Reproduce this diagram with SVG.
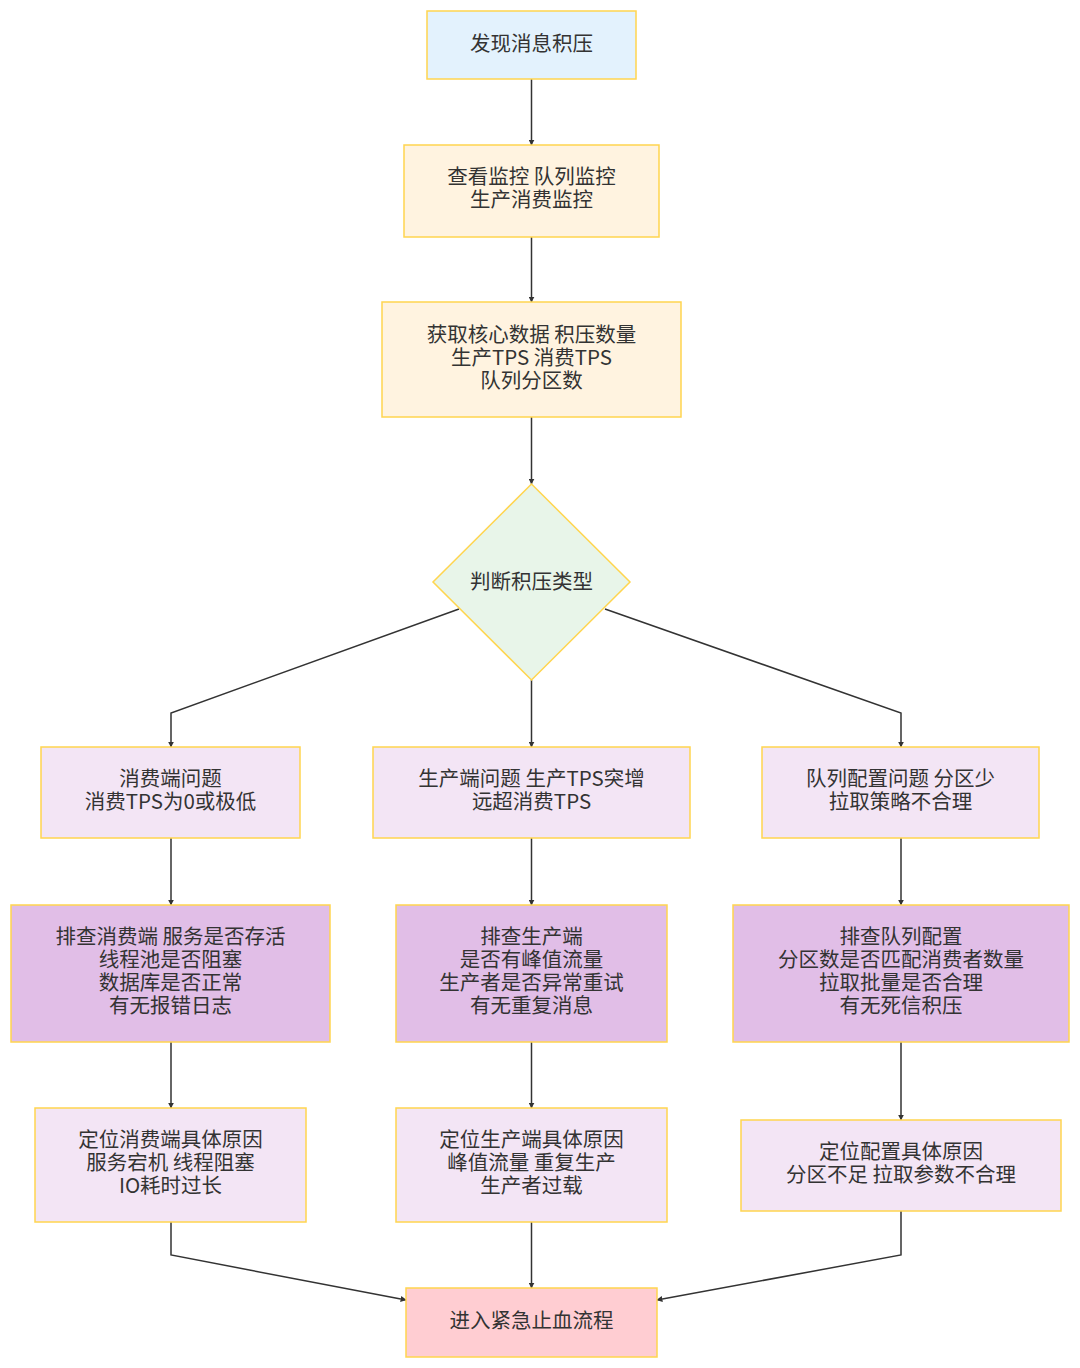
<svg xmlns="http://www.w3.org/2000/svg" width="1080" height="1368" viewBox="0 0 1080 1368">
<defs>
<marker id="arr" viewBox="0 0 10 10" refX="9" refY="5" markerWidth="6" markerHeight="6" orient="auto-start-reverse" markerUnits="userSpaceOnUse">
<path d="M0,0 L10,5 L0,10 z" fill="#333"/>
</marker>
<style>
.n{stroke:#ffd54f;stroke-width:1.5}
.t{font-family:"Noto Sans CJK SC","Noto Sans",sans-serif;font-size:20.5px;fill:#333;text-anchor:middle}
.e{fill:none;stroke:#333;stroke-width:1.5;marker-end:url(#arr)}
</style>
</defs>
<rect width="1080" height="1368" fill="#fff"/>
<g id="edges">
<path class="e" d="M531.5,79 V145"/>
<path class="e" d="M531.5,237 V302"/>
<path class="e" d="M531.5,417 V484"/>
<path class="e" d="M459,609 L171,713 V747"/>
<path class="e" d="M531.5,680 V747"/>
<path class="e" d="M605,609 L901,713 V747"/>
<path class="e" d="M171,838 V905"/>
<path class="e" d="M531.5,838 V905"/>
<path class="e" d="M901,838 V905"/>
<path class="e" d="M171,1042 V1108"/>
<path class="e" d="M531.5,1042 V1108"/>
<path class="e" d="M901,1042 V1120"/>
<path class="e" d="M171,1222 V1255 L406,1300"/>
<path class="e" d="M531.5,1222 V1288"/>
<path class="e" d="M901,1211 V1255 L657,1300"/>
</g>
<g id="n1"><rect class="n" x="427" y="11" width="209" height="68" fill="#e3f2fd"/><text class="t" x="531.5" y="51">发现消息积压</text></g>
<g id="n2"><rect class="n" x="404" y="145" width="255" height="92" fill="#fff3e0"/><text class="t" x="531.5" y="184">查看监控 队列监控</text><text class="t" x="531.5" y="207">生产消费监控</text></g>
<g id="n3"><rect class="n" x="382" y="302" width="299" height="115" fill="#fff3e0"/><text class="t" x="531.5" y="342">获取核心数据 积压数量</text><text class="t" x="531.5" y="365">生产TPS 消费TPS</text><text class="t" x="531.5" y="388">队列分区数</text></g>
<g id="d1"><polygon class="n" points="531.5,484 630,582 531.5,680 433,582" fill="#e8f5e9"/><text class="t" x="531.5" y="589">判断积压类型</text></g>
<g id="a1"><rect class="n" x="41" y="747" width="259" height="91" fill="#f3e5f5"/><text class="t" x="170.5" y="786">消费端问题</text><text class="t" x="170.5" y="809">消费TPS为0或极低</text></g>
<g id="b1"><rect class="n" x="373" y="747" width="317" height="91" fill="#f3e5f5"/><text class="t" x="531.5" y="786">生产端问题 生产TPS突增</text><text class="t" x="531.5" y="809">远超消费TPS</text></g>
<g id="c1"><rect class="n" x="762" y="747" width="277" height="91" fill="#f3e5f5"/><text class="t" x="900.5" y="786">队列配置问题 分区少</text><text class="t" x="900.5" y="809">拉取策略不合理</text></g>
<g id="a2"><rect class="n" x="11" y="905" width="319" height="137" fill="#e1bee7"/><text class="t" x="170.5" y="944">排查消费端 服务是否存活</text><text class="t" x="170.5" y="967">线程池是否阻塞</text><text class="t" x="170.5" y="990">数据库是否正常</text><text class="t" x="170.5" y="1013">有无报错日志</text></g>
<g id="b2"><rect class="n" x="396" y="905" width="271" height="137" fill="#e1bee7"/><text class="t" x="531.5" y="944">排查生产端</text><text class="t" x="531.5" y="967">是否有峰值流量</text><text class="t" x="531.5" y="990">生产者是否异常重试</text><text class="t" x="531.5" y="1013">有无重复消息</text></g>
<g id="c2"><rect class="n" x="733" y="905" width="336" height="137" fill="#e1bee7"/><text class="t" x="901" y="944">排查队列配置</text><text class="t" x="901" y="967">分区数是否匹配消费者数量</text><text class="t" x="901" y="990">拉取批量是否合理</text><text class="t" x="901" y="1013">有无死信积压</text></g>
<g id="a3"><rect class="n" x="35" y="1108" width="271" height="114" fill="#f3e5f5"/><text class="t" x="170.5" y="1147">定位消费端具体原因</text><text class="t" x="170.5" y="1170">服务宕机 线程阻塞</text><text class="t" x="170.5" y="1193">IO耗时过长</text></g>
<g id="b3"><rect class="n" x="396" y="1108" width="271" height="114" fill="#f3e5f5"/><text class="t" x="531.5" y="1147">定位生产端具体原因</text><text class="t" x="531.5" y="1170">峰值流量 重复生产</text><text class="t" x="531.5" y="1193">生产者过载</text></g>
<g id="c3"><rect class="n" x="741" y="1120" width="320" height="91" fill="#f3e5f5"/><text class="t" x="901" y="1159">定位配置具体原因</text><text class="t" x="901" y="1182">分区不足 拉取参数不合理</text></g>
<g id="end"><rect class="n" x="406" y="1288" width="251" height="69" fill="#ffcdd2"/><text class="t" x="531.5" y="1328">进入紧急止血流程</text></g>
</svg>
